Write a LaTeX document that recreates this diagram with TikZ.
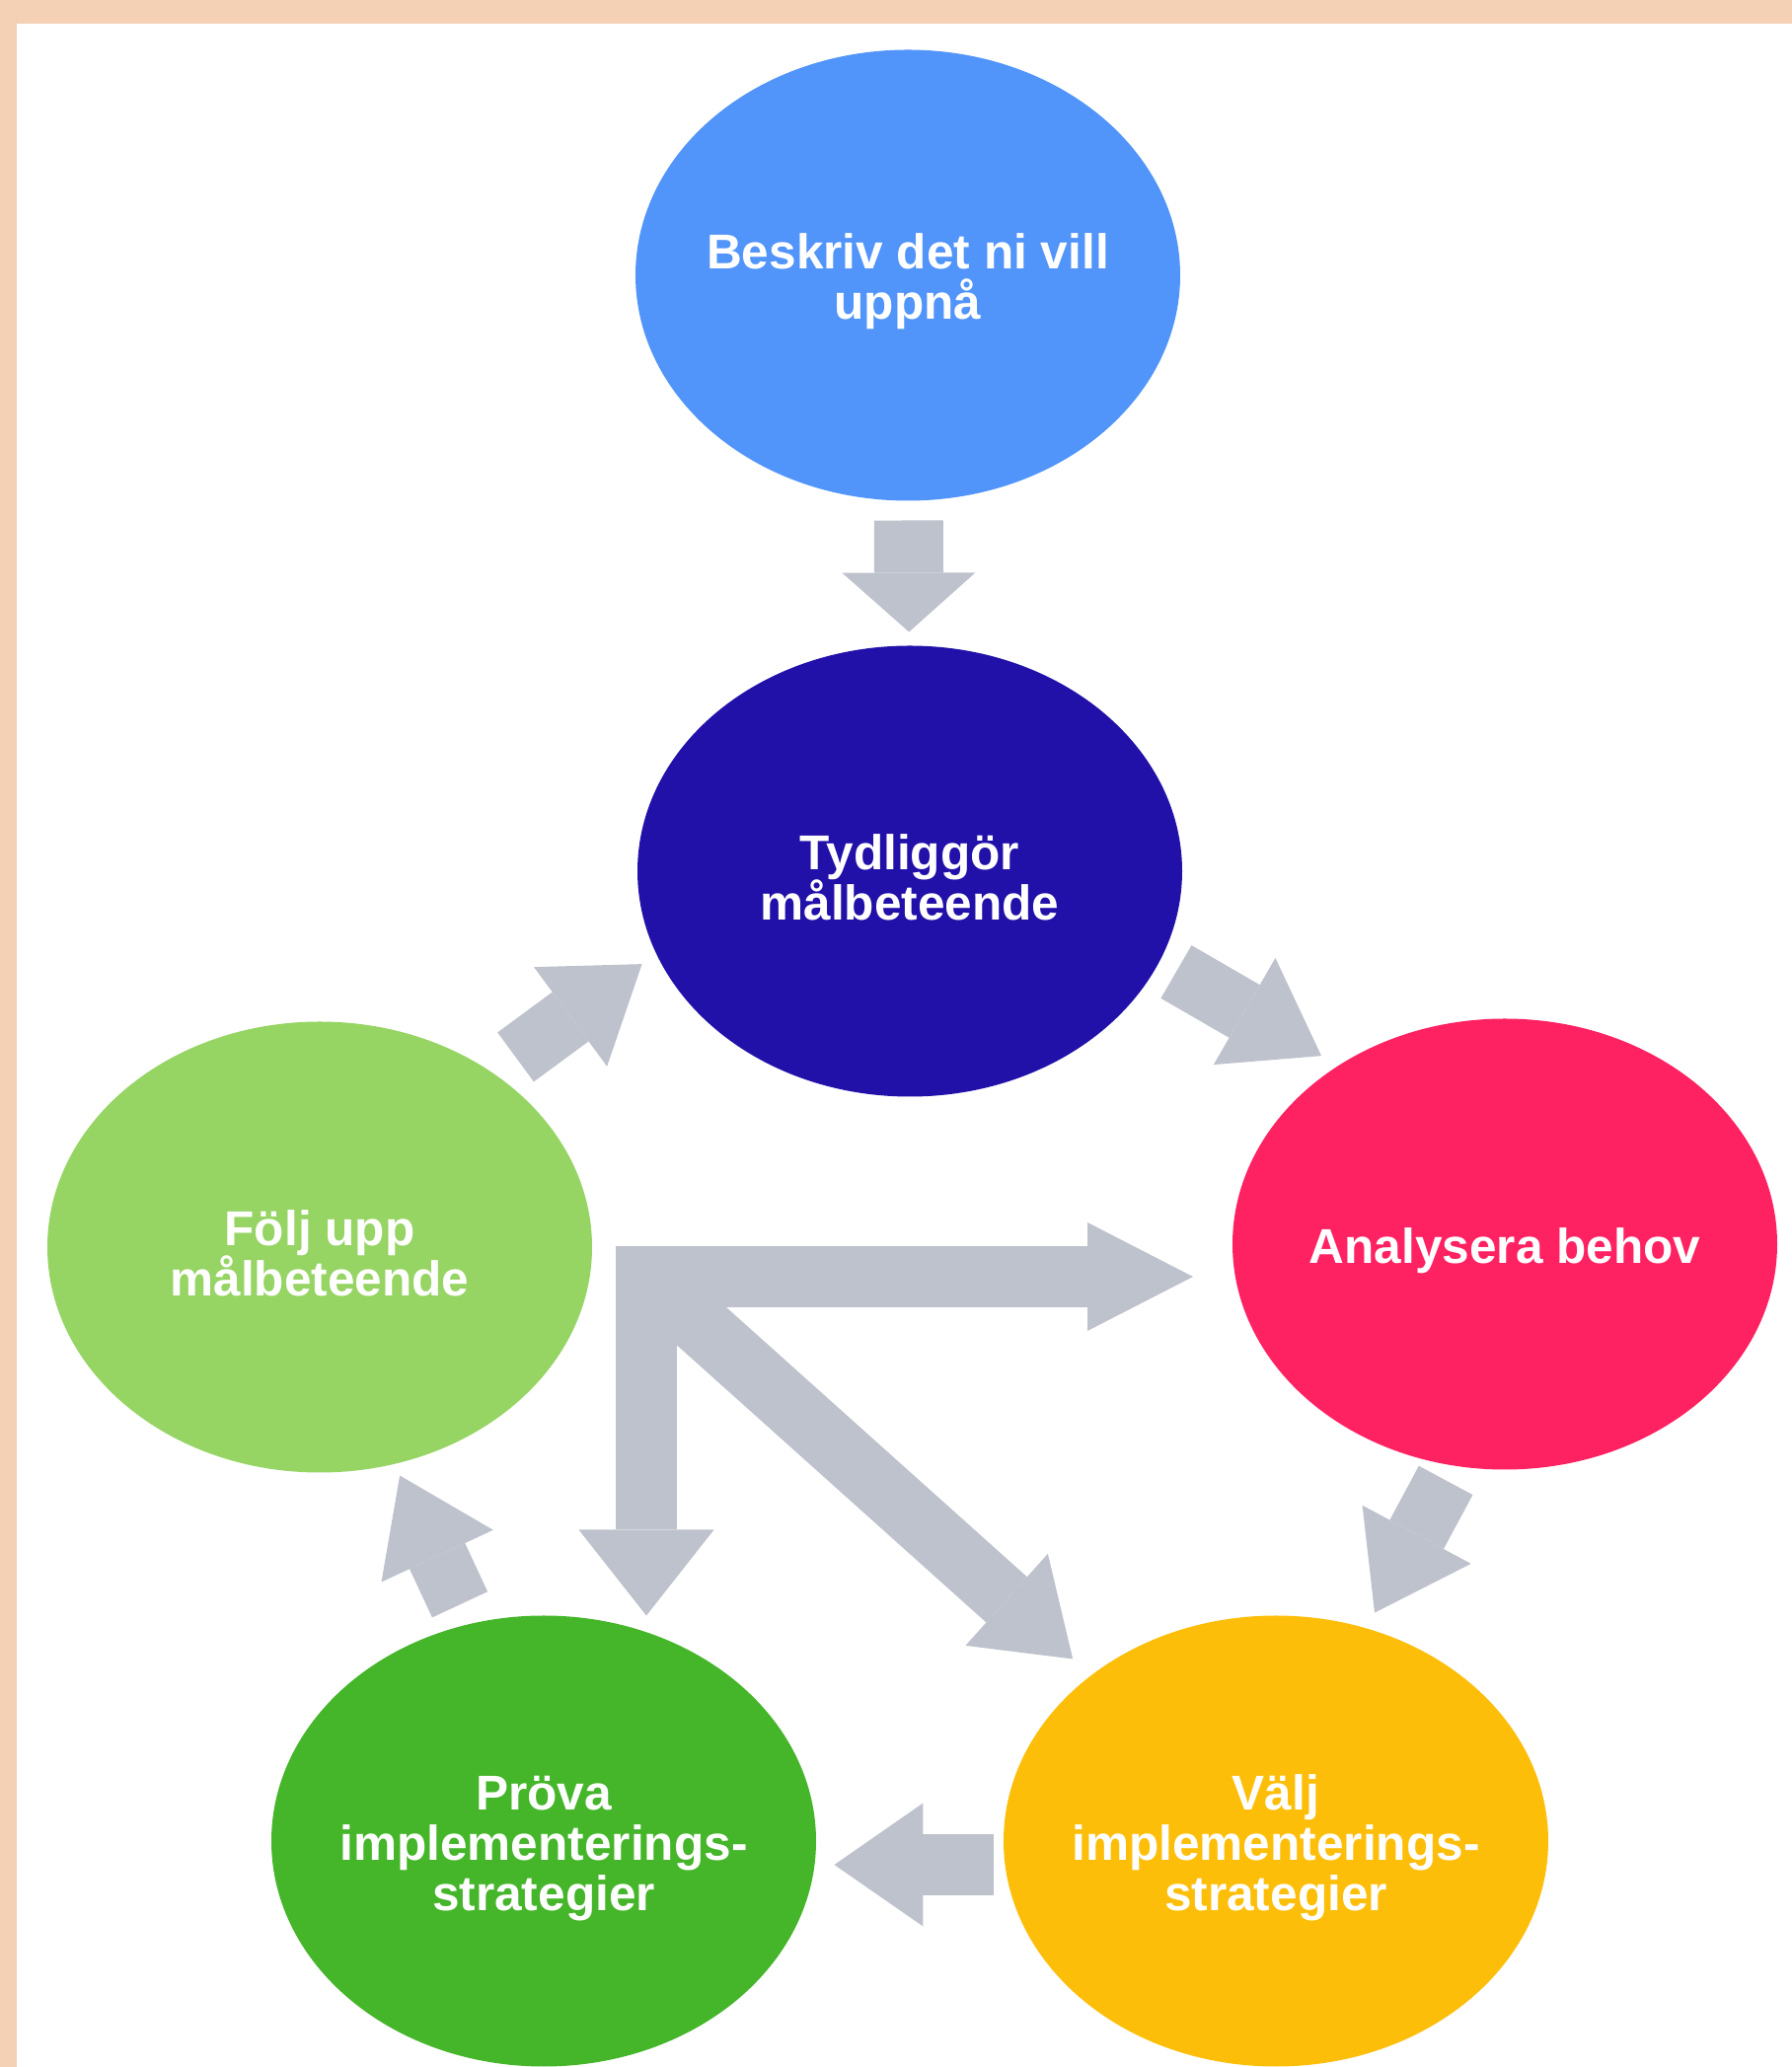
\documentclass[tikz,border=0pt]{standalone}
\usepackage{fontspec}
\setmainfont{Liberation Sans}
\usetikzlibrary{shapes.geometric}
\usetikzlibrary{arrows.meta}

\definecolor{peach}{RGB}{244,208,181}
\definecolor{arrowgrey}{RGB}{190,194,204}
\definecolor{goalblue}{RGB}{81,148,250}
\definecolor{targetblue}{RGB}{34,17,169}
\definecolor{followgreen}{RGB}{150,212,100}
\definecolor{analysepink}{RGB}{254,34,99}
\definecolor{trialgreen}{RGB}{69,181,42}
\definecolor{chooseyellow}{RGB}{253,190,10}

\newcommand{\lift}{\rule{0pt}{14pt}}

\tikzset{
  stage/.style={ellipse, fill=#1, minimum width=5.52cm, minimum height=4.57cm,
    inner sep=0pt, inner xsep=-4mm, outer sep=0pt, text=white, align=center,
    font=\bfseries\fontsize{14.1}{14.5}\selectfont\setlength{\lineskiplimit}{-20pt}},
  flow/.style={draw=arrowgrey, line width=6.2mm,
    -{Triangle[length=9mm,width=12.5mm,line width=0pt]}}
}

\begin{document}
\begin{tikzpicture}
\useasboundingbox (0,0) rectangle (18.16,20.95);
\fill[white] (0,0) rectangle (18.16,20.95);
\fill[peach] (0,20.71) rectangle (18.16,20.95);
\fill[peach] (0,0) rectangle (0.17,20.95);

\node[stage=goalblue] (goal) at (9.20,18.16) {\lift Beskriv det ni vill\\uppnå};
\node[stage=targetblue] (target) at (9.22,12.12) {\lift Tydliggör\\målbeteende};
\node[stage=followgreen] (followup) at (3.24,8.31) {\lift Följ upp\\målbeteende};
\node[stage=analysepink] (analyse) at (15.25,8.34) {\lift Analysera behov};
\node[stage=trialgreen] (trial) at (5.51,2.29) {\lift Pröva\\implementerings-\\strategier};
\node[stage=chooseyellow] (choose) at (12.93,2.29) {\lift Välj\\implementerings-\\strategier};

\draw[flow, line width=7mm, -{Triangle[length=6mm,width=13.5mm,line width=0pt]},
  shorten <=2mm, shorten >=1.4mm] (goal) -- (target);
\foreach \src/\dst/\gapa/\gapb in {target.-20/analyse.133/2/2, analyse.257/choose.67/1.7/1.8,
    choose.185/trial.-5/1.2/2, trial.109/followup.-71/2.2/1.3, followup.45/target.198/2.8/1.8}{
  \draw[flow, shorten <=\gapa mm, shorten >=\gapb mm] (\src) -- (\dst);}

\coordinate (hub) at ([shift={(0.55,-0.3)}]followup.east);
\draw[flow, {Triangle[length=10.7mm,width=11mm,line width=0pt]}-{Triangle[length=8.7mm,width=13.7mm,line width=0pt]},
  shorten <=4mm] (hub -| analyse.west) -- (hub) -- (hub |- trial.north);
\draw[flow, shorten >=2.5mm] (hub) -- (choose);
\end{tikzpicture}
\end{document}
